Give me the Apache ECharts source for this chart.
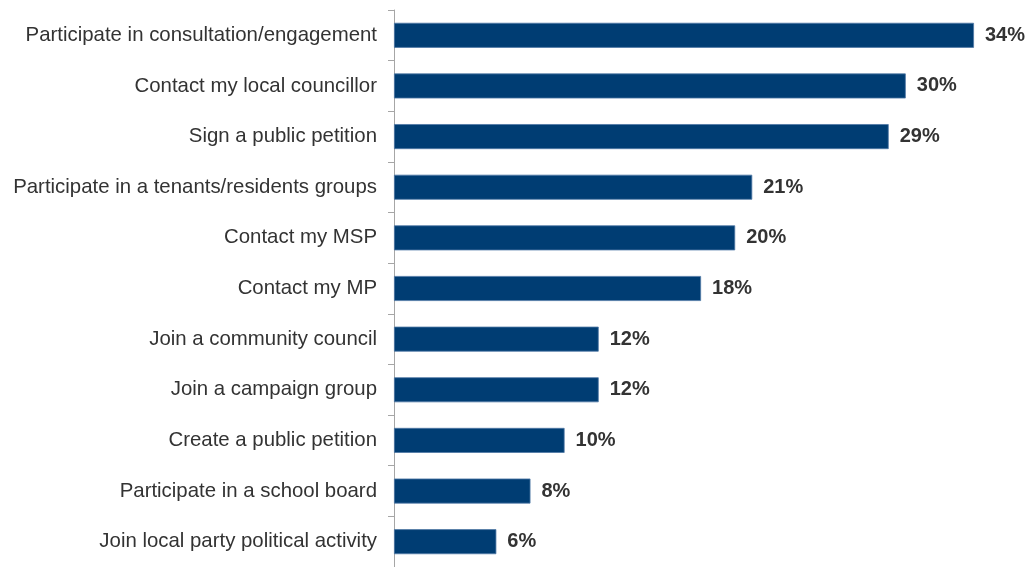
<!DOCTYPE html>
<html>
<head>
<meta charset="utf-8">
<script src="https://cdn.jsdelivr.net/npm/echarts@6/dist/echarts.min.js"></script>
<style>
  html, body { margin: 0; padding: 0; background: #ffffff; }
  #chart { width: 1027px; height: 567px; }
</style>
</head>
<body>
<div id="chart"></div>
<script>
// Activities people would take part in (share of respondents, %)
const categories = [
  'Participate in consultation/engagement',
  'Contact my local councillor',
  'Sign a public petition',
  'Participate in a tenants/residents groups',
  'Contact my MSP',
  'Contact my MP',
  'Join a community council',
  'Join a campaign group',
  'Create a public petition',
  'Participate in a school board',
  'Join local party political activity'
];
const values = [34, 30, 29, 21, 20, 18, 12, 12, 10, 8, 6];

const chart = echarts.init(document.getElementById('chart'), null, { renderer: 'canvas' });
chart.setOption({
  animation: false,
  grid: { left: 394, top: 10, width: 580, height: 561, containLabel: false },
  xAxis: {
    type: 'value',
    min: 0,
    max: 34,
    show: false
  },
  yAxis: {
    type: 'category',
    data: categories,
    inverse: true,
    axisLine: { show: true, lineStyle: { color: '#a6a6a6', width: 1 } },
    axisTick: { show: true, length: 6, alignWithLabel: false, lineStyle: { color: '#a6a6a6' } },
    axisLabel: {
      margin: 17,
      color: '#333333',
      fontFamily: 'Liberation Sans, Arial, sans-serif',
      fontSize: 20.4
    }
  },
  series: [{
    type: 'bar',
    data: values,
    barWidth: 25,
    itemStyle: { color: '#003d73', borderColor: '#4f79a6', borderWidth: 0.8 },
    label: {
      show: true,
      position: 'right',
      distance: 11,
      formatter: p => p.value + '%',
      color: '#333333',
      fontWeight: 'bold',
      fontFamily: 'Liberation Sans, Arial, sans-serif',
      fontSize: 20
    }
  }]
});
</script>
</body>
</html>
